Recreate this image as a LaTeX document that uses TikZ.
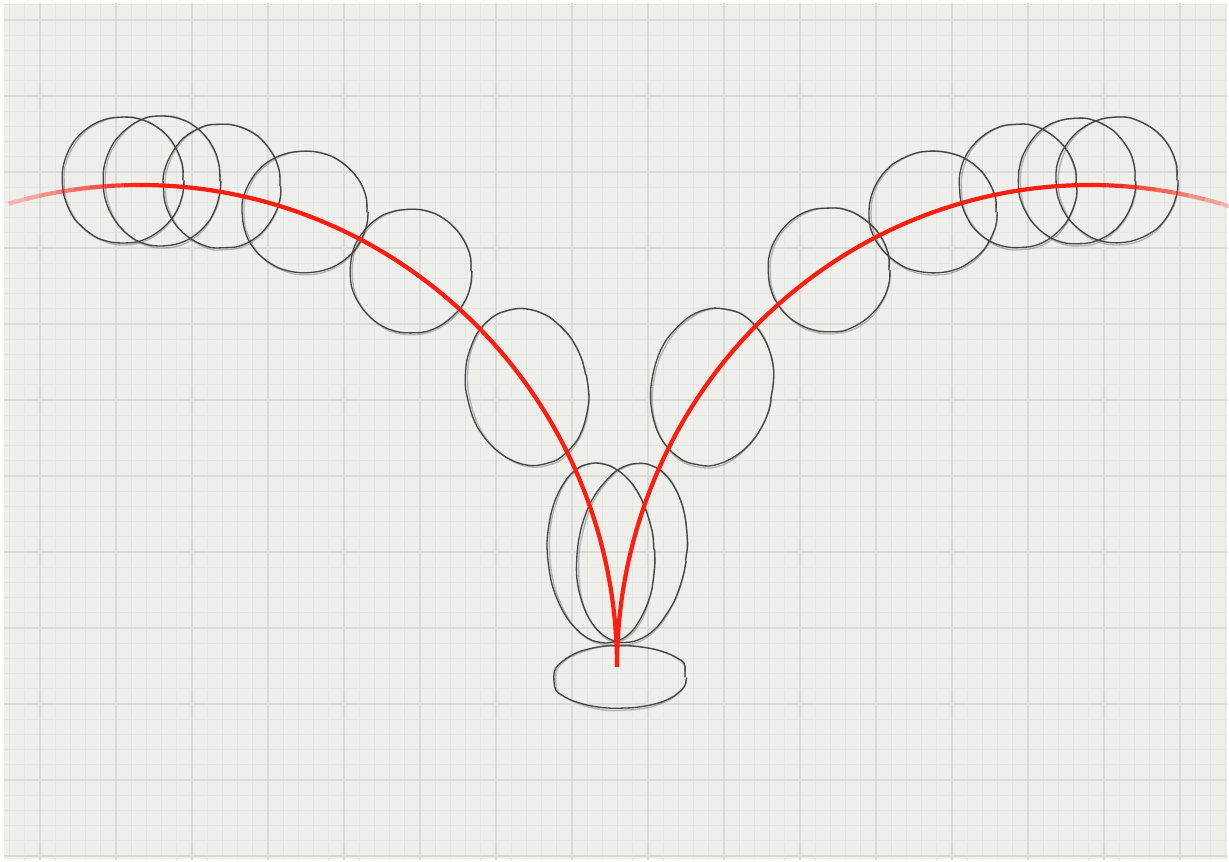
\documentclass[tikz,border=0pt]{standalone}
\usetikzlibrary{decorations.pathmorphing}
\definecolor{paper}{HTML}{EEEEEB}
\definecolor{finegrid}{HTML}{E5E5E1}
\definecolor{coarsegrid}{HTML}{DADAD6}
\definecolor{pencil}{HTML}{454545}
\definecolor{ink}{HTML}{FF1E0F}
\begin{document}
\begin{tikzpicture}[x=.02cm,y=.02cm,
  fine/.style={finegrid,line width=.4pt},
  coarse/.style={coarsegrid,line width=.8pt},
  ball/.style={pencil,line width=.75pt,decorate,
    decoration={random steps,segment length=8pt,amplitude=.25pt},rounded corners=2.5pt},
  trail/.style={ink,line width=2.4pt}]
  \useasboundingbox (0,0) rectangle (1229,861);
  \fill[white] (0,0) rectangle (1229,861);
  \fill[paper] (4,2) rectangle (1227,857);
  % graph paper
  \begin{scope}
    \clip (4,2) rectangle (1227,857);
    \foreach \i in {-3,...,78} \draw[fine] ({40+15.2*\i},0) -- ++(0,861);
    \foreach \j in {-1,...,56} \draw[fine] (0,{841-15.2*\j}) -- ++(1229,0);
    \foreach \i in {0,...,15} \draw[coarse] ({40+76*\i},0) -- ++(0,861);
    \foreach \j in {0,...,11} \draw[coarse] (0,{841-76*\j}) -- ++(1229,0);
  \end{scope}
  % ball positions, left fall then right rise
  \foreach \cx/\cy/\rx/\ry/\rot in {
      123/681/60/62/0, 162/680/58/64/0, 222/675/58/61/0, 305/649/62/60/0,
      411/590/60/61/0, 527/474/60/78/12, 601/308/53/88/4, 620/184/65/31/0,
      632/308/54/88/-8, 712/474/60/78/-12, 829/591/60/61/0, 933/649/63/60/0,
      1018/675/58/61/0, 1077/680/58/62/0, 1117/681/60/62/0} {
    \draw[ball,rotate around={\rot:(\cx,\cy)}] (\cx,\cy) ellipse[x radius=\rx,y radius=\ry];
    \draw[ball,opacity=.35,rotate around={\rot:(\cx,\cy)}] ({\cx+1},{\cy-1})
      ellipse[x radius={\rx-1},y radius={\ry+1}];
  }
  % arcs of flight
  \coordinate (lc) at (140,194);
  \coordinate (rc) at (1090,194);
  \foreach \k in {0,...,7}
    \draw[trail,opacity={.25+.1*\k}] ([shift={(lc)}]{106-2*\k}:477 and 482)
      arc[start angle={106-2*\k},end angle={104-2*\k},x radius=477,y radius=482];
  \draw[trail] ([shift={(lc)}]90:477 and 482) arc[start angle=90,end angle=0,x radius=477,y radius=482];
  \draw[trail] ([shift={(rc)}]180:473 and 482) arc[start angle=180,end angle=88,x radius=473,y radius=482];
  \foreach \k in {0,...,7}
    \draw[trail,opacity={.95-.1*\k}] ([shift={(rc)}]{88-2*\k}:473 and 482)
      arc[start angle={88-2*\k},end angle={86-2*\k},x radius=473,y radius=482];
\end{tikzpicture}
\end{document}
